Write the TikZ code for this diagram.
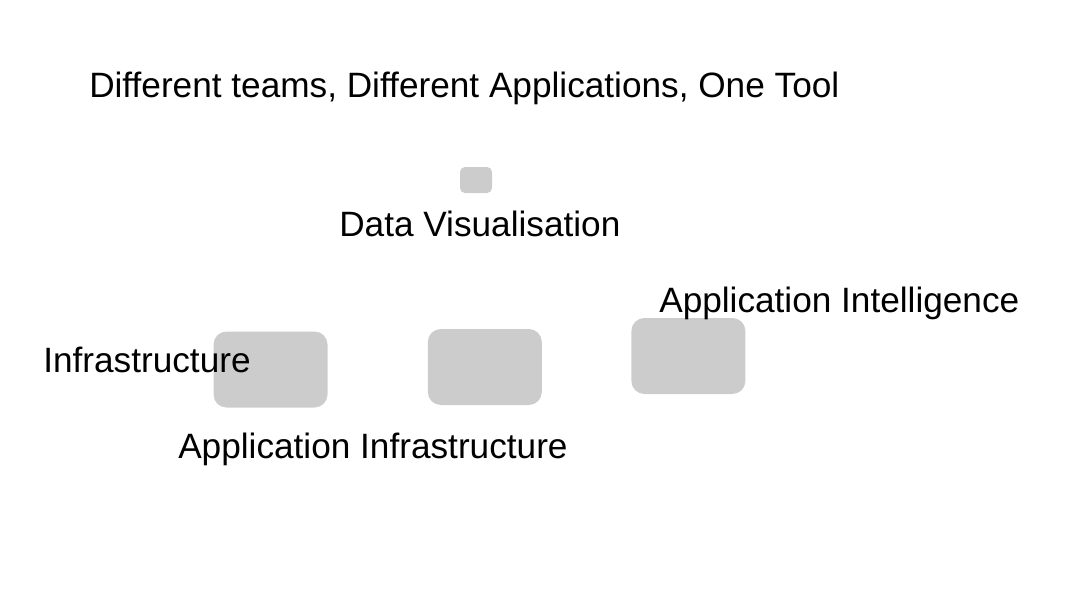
\documentclass[tikz,border=0pt]{standalone}
\usepackage{fontspec}
\setmainfont{Liberation Sans}
\usepackage{tikz}
\tikzstyle{box} = [rounded corners=9.75pt, fill=black!20, minimum width=85.5pt, minimum height=57pt, inner sep=0pt]
\tikzstyle{smallbox} = [rounded corners=3.75pt, fill=black!20, minimum width=24pt, minimum height=19.5pt, inner sep=0pt]
\tikzstyle{label} = [anchor=base west, inner sep=0pt, font=\fontsize{26.4pt}{31pt}\selectfont]

\begin{document}
\begin{tikzpicture}[x=0.75pt, y=-0.75pt]
    \useasboundingbox (0,0) rectangle (1088,589);

    \node[smallbox] (dv) at (476,180) {};
    \node[box] (infra) at (270.5,369.5) {};
    \node[box] (appinfra) at (484.8,367) {};
    \node[box] (appint) at (688.4,356) {};

    \node[label] (title) at (89,97) {Different teams, Different Applications, One Tool};
    \node[label] (dvlabel) at (339,236) {Data Visualisation};
    \node[label] (appintlabel) at (659,312) {Application Intelligence};
    \node[label] (infralabel) at (43,372) {Infrastructure};
    \node[label] (appinfralabel) at (178,458) {Application Infrastructure};
\end{tikzpicture}
\end{document}
